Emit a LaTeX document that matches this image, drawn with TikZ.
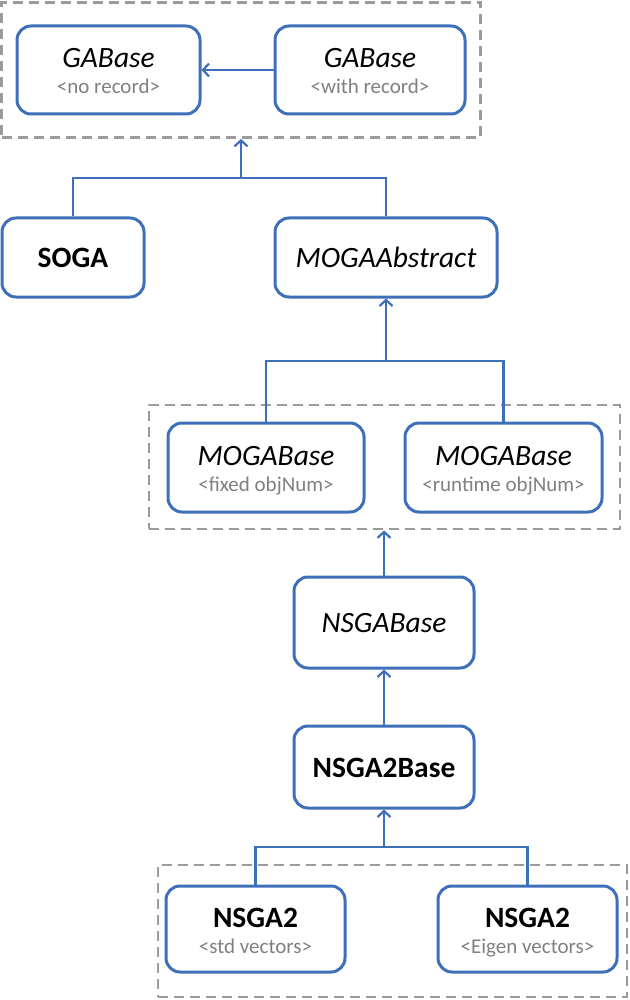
\documentclass[tikz,border=0pt]{standalone}
\usepackage{fontspec}
\setmainfont{Carlito}
\usetikzlibrary{arrows.meta}
\definecolor{boxblue}{RGB}{62,112,186}
\definecolor{dashgray}{RGB}{155,155,155}
\definecolor{subgray}{RGB}{128,128,128}
\begin{document}
\begin{tikzpicture}[x=1pt,y=-1pt,
  cls/.style={draw=boxblue, line width=3pt, rounded corners=14pt, fill=white, inner sep=0pt},
  grp/.style={draw=dashgray, line width=2.8pt, dash pattern=on 10pt off 6pt, inner sep=0pt},
  conn/.style={draw=boxblue, line width=2.2pt},
  arr/.style={conn, -{Straight Barb[length=6pt,width=13pt,line width=2.2pt]}},
  ttl/.style={anchor=base, inner sep=0pt, font=\fontsize{29.5}{31}\selectfont},
  sub/.style={anchor=base, inner sep=0pt, text=subgray, font=\fontsize{21}{23}\selectfont}]
\useasboundingbox (0,0) rectangle (629,1000);

% group frames
\node[grp, minimum width=479pt, minimum height=135pt] (d1) at (241,70) {};
\node[grp, minimum width=471pt, minimum height=124pt] (d2) at (384.5,467) {};
\node[grp, minimum width=469pt, minimum height=132pt] (d3) at (392.5,931) {};

% classes
\node[cls, minimum width=183pt, minimum height=88pt] (gA) at (108.5,70) {};
\node[ttl] (gAt) at ([yshift=2pt]gA.center) {\itshape GABase};
\node[sub] (gAs) at ([yshift=-24pt]gA.center) {<no record>};

\node[cls, minimum width=190pt, minimum height=88pt] (gB) at (370,70) {};
\node[ttl] (gBt) at ([yshift=2pt]gB.center) {\itshape GABase};
\node[sub] (gBs) at ([yshift=-24pt]gB.center) {<with record>};

\node[cls, minimum width=142pt, minimum height=79pt] (soga) at (73,257.5) {};
\node[ttl] (sogat) at ([yshift=-10pt]soga.center) {\bfseries SOGA};

\node[cls, minimum width=222pt, minimum height=79pt] (mabs) at (386,257.5) {};
\node[ttl] (mabst) at ([yshift=-10pt]mabs.center) {\itshape MOGAAbstract};

\node[cls, minimum width=196pt, minimum height=89pt] (mbA) at (266,467.5) {};
\node[ttl] (mbAt) at ([yshift=2pt]mbA.center) {\itshape MOGABase};
\node[sub] (mbAs) at ([yshift=-24pt]mbA.center) {<fixed objNum>};

\node[cls, minimum width=197pt, minimum height=89pt] (mbB) at (503.5,467.5) {};
\node[ttl] (mbBt) at ([yshift=2pt]mbB.center) {\itshape MOGABase};
\node[sub] (mbBs) at ([yshift=-24pt]mbB.center) {<runtime objNum>};

\node[cls, minimum width=180pt, minimum height=91pt] (nsb) at (384,622.5) {};
\node[ttl] (nsbt) at ([yshift=-10pt]nsb.center) {\itshape NSGABase};

\node[cls, minimum width=180pt, minimum height=82pt] (ns2b) at (384,767) {};
\node[ttl] (ns2bt) at ([yshift=-10pt]ns2b.center) {\bfseries NSGA2Base};

\node[cls, minimum width=179pt, minimum height=86pt] (nA) at (255.5,929) {};
\node[ttl] (nAt) at ([yshift=2pt]nA.center) {\bfseries NSGA2};
\node[sub] (nAs) at ([yshift=-24pt]nA.center) {<std vectors>};

\node[cls, minimum width=179pt, minimum height=86pt] (nB) at (527.5,929) {};
\node[ttl] (nBt) at ([yshift=2pt]nB.center) {\bfseries NSGA2};
\node[sub] (nBs) at ([yshift=-24pt]nB.center) {<Eigen vectors>};

% junctions
\coordinate (j1) at (241,178);
\coordinate (j2) at (386,361);
\coordinate (j3) at (384,847);

% connectors
\draw[arr] (gB.west) -- (gA.east);

\draw[conn] (soga.north) |- (j1) -| (mabs.north);
\draw[arr] (j1) -- (d1.south);

\draw[conn] (mbA.north) |- (j2) -| (mbB.north);
\draw[arr] (j2) -- (mabs.south);

\draw[arr] (nsb.north) -- (nsb.north |- d2.south);
\draw[arr] (ns2b.north) -- (nsb.south);

\draw[conn] (nA.north) |- (j3) -| (nB.north);
\draw[arr] (j3) -- (ns2b.south);
\end{tikzpicture}
\end{document}
